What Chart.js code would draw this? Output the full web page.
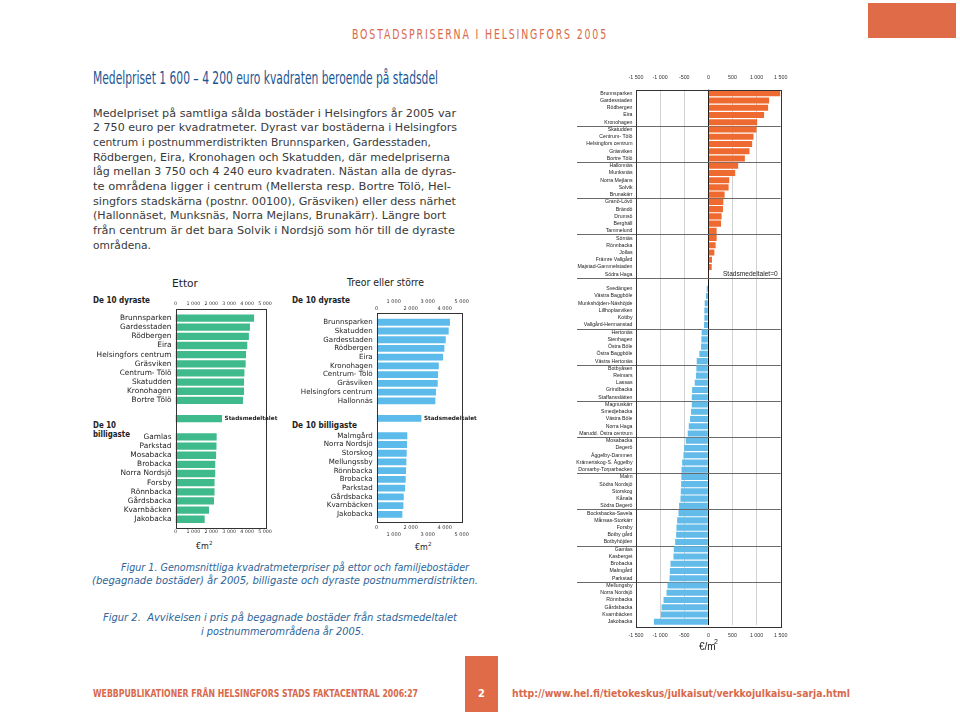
<!DOCTYPE html>
<html lang="sv">
<head>
<meta charset="utf-8">
<title>Bostadspriserna i Helsingfors 2005</title>
<script src="https://cdn.jsdelivr.net/npm/chart.js@4.4.1/dist/chart.umd.min.js"></script>
<style>
  html, body { margin: 0; padding: 0; background: #fff; }
  #page { position: relative; width: 960px; height: 712px; overflow: hidden; font-family: 'DejaVu Sans', Verdana, sans-serif; color: #3a3a3a; }
  .t { position: absolute; white-space: nowrap; line-height: 1; transform-origin: 0 50%; }
  .cond { font-family: 'DejaVu Sans Condensed', 'Liberation Sans Narrow', 'DejaVu Sans', sans-serif; font-stretch: condensed; }
  .orange { color: #d8694b; }
  .p { font-size: 11px; }
  .cap { font-style: italic; color: #2e6599; font-size: 10.5px; }
  .lbl { color: #222; }
  .block { position: absolute; background: #e06b48; }
  canvas { position: absolute; }
  sup { font-size: 70%; vertical-align: 4px; }
</style>
</head>
<body>
<div id="page">
  <!-- header -->
  <div class="block" style="left:868px;top:3px;width:88px;height:35px"></div>
  <div class="t cond orange" style="left:352px;top:27px;font-size:14px;letter-spacing:2.5px" data-w="256">BOSTADSPRISERNA I HELSINGFORS 2005</div>

  <div class="t cond" style="left:93px;top:69px;font-size:18px;color:#1b5692" data-w="345">Medelpriset 1 600 – 4 200 euro kvadraten beroende på stadsdel</div>

  <div class="t p" style="left:93px;top:107.5px" data-w="363">Medelpriset på samtliga sålda bostäder i Helsingfors år 2005 var</div>
  <div class="t p" style="left:93px;top:122.2px" data-w="364">2 750 euro per kvadratmeter. Dyrast var bostäderna i Helsingfors</div>
  <div class="t p" style="left:93px;top:136.8px" data-w="338">centrum i postnummerdistrikten Brunnsparken, Gardesstaden,</div>
  <div class="t p" style="left:93px;top:151.5px" data-w="357">Rödbergen, Eira, Kronohagen och Skatudden, där medelpriserna</div>
  <div class="t p" style="left:93px;top:166.2px" data-w="363">låg mellan 3 750 och 4 240 euro kvadraten. Nästan alla de dyras-</div>
  <div class="t p" style="left:93px;top:180.8px" data-w="358">te områdena ligger i centrum (Mellersta resp. Bortre Tölö, Hel-</div>
  <div class="t p" style="left:93px;top:195.5px" data-w="363">singfors stadskärna (postnr. 00100), Gräsviken) eller dess närhet</div>
  <div class="t p" style="left:93px;top:210.2px" data-w="353">(Hallonnäset, Munksnäs, Norra Mejlans, Brunakärr). Längre bort</div>
  <div class="t p" style="left:93px;top:224.8px" data-w="362">från centrum är det bara Solvik i Nordsjö som hör till de dyraste</div>
  <div class="t p" style="left:93px;top:239.5px" data-w="58">områdena.</div>

  <!-- small charts: headings -->
  <div class="t lbl" style="left:172px;top:277.5px;font-size:10.5px" data-w="26">Ettor</div>
  <div class="t lbl" style="left:347px;top:276.5px;font-size:10.5px" data-w="77">Treor eller större</div>
  <div class="t lbl" style="left:93px;top:295.5px;font-size:8.5px;font-weight:bold" data-w="57">De 10 dyraste</div>
  <div class="t lbl" style="left:292px;top:295.5px;font-size:8.5px;font-weight:bold" data-w="58">De 10 dyraste</div>
  <div class="t lbl" style="left:93px;top:420.5px;font-size:8.5px;font-weight:bold" data-w="23">De 10</div>
  <div class="t lbl" style="left:93px;top:429.5px;font-size:8.5px;font-weight:bold" data-w="37">billigaste</div>
  <div class="t lbl" style="left:292px;top:420.5px;font-size:8.5px;font-weight:bold" data-w="65">De 10 billigaste</div>
  <div class="t lbl" style="left:196px;top:541px;font-size:8px">€m<sup>2</sup></div>
  <div class="t lbl" style="left:415px;top:542px;font-size:8px">€m<sup>2</sup></div>

  <canvas id="ettor" width="206" height="250" style="left:84px;top:295px"></canvas>
  <canvas id="treor" width="200" height="260" style="left:280px;top:290px"></canvas>
  <canvas id="avvikelse" width="240" height="580" style="left:560px;top:66px"></canvas>

  <div class="t lbl" style="left:699px;top:641.5px;font-family:'Liberation Sans',Arial,sans-serif;font-size:10px">€/m</div>
  <div class="t lbl" style="left:714px;top:637.5px;font-family:'Liberation Sans',Arial,sans-serif;font-size:7px">2</div>

  <!-- captions -->
  <div class="t cap" style="left:121px;top:561.5px" data-w="348">Figur 1. Genomsnittliga kvadratmeterpriser på ettor och familjebostäder</div>
  <div class="t cap" style="left:92px;top:574.5px" data-w="386">(begagnade bostäder) år 2005, billigaste och dyraste postnummerdistrikten.</div>
  <div class="t cap" style="left:103px;top:611.5px" data-w="354">Figur 2.&nbsp; Avvikelsen i pris på begagnade bostäder från stadsmedeltalet</div>
  <div class="t cap" style="left:201px;top:625.5px" data-w="163">i postnummerområdena år 2005.</div>

  <!-- footer -->
  <div class="t cond orange" style="left:93px;top:687.5px;font-size:11px;font-weight:bold" data-w="325">WEBBPUBLIKATIONER FRÅN HELSINGFORS STADS FAKTACENTRAL 2006:27</div>
  <div class="block" style="left:465px;top:656px;width:33px;height:56px"></div>
  <div class="t cond" style="left:478px;top:687.5px;font-size:11px;font-weight:bold;color:#fff">2</div>
  <div class="t cond orange" style="left:512px;top:687.5px;font-size:11px;font-weight:bold" data-w="338">http://www.hel.fi/tietokeskus/julkaisut/verkkojulkaisu-sarja.html</div>
</div>

<script>
// Ettor (one-room flats), euro per m2
const ettorDyraste = ['Brunnsparken', 'Gardesstaden', 'Rödbergen', 'Eira', 'Helsingfors centrum',
    'Gräsviken', 'Centrum- Tölö', 'Skatudden', 'Kronohagen', 'Bortre Tölö'];
const ettorDyrasteVal = [4390, 4160, 4100, 4010, 3940, 3920, 3850, 3830, 3830, 3770];
const ettorMedel = 2600;
const ettorBilligaste = ['Gamlas', 'Parkstad', 'Mosabacka', 'Brobacka', 'Norra Nordsjö',
    'Forsby', 'Rönnbacka', 'Gårdsbacka', 'Kvarnbäcken', 'Jakobacka'];
const ettorBilligasteVal = [2300, 2290, 2270, 2220, 2220, 2180, 2180, 2150, 1870, 1630];

// Treor eller större, euro per m2
const treorDyraste = ['Brunnsparken', 'Skatudden', 'Gardesstaden', 'Rödbergen', 'Eira',
    'Kronohagen', 'Centrum- Tölö', 'Gräsviken', 'Helsingfors centrum', 'Hallonnäs'];
const treorDyrasteVal = [4310, 4235, 4060, 3980, 3900, 3650, 3610, 3590, 3490, 3450];
const treorMedel = 2630;
const treorBilligaste = ['Malmgård', 'Norra Nordsjö', 'Storskog', 'Mellungssby', 'Rönnbacka',
    'Brobacka', 'Parkstad', 'Gårdsbacka', 'Kvarnbäcken', 'Jakobacka'];
const treorBilligasteVal = [1800, 1780, 1765, 1745, 1725, 1705, 1665, 1590, 1570, 1510];

const avgLabel = 'Stadsmedeltalet';

// Figur 2: deviation from city average (euro per m2)
const overNames = ['Brunnsparken', 'Gardesstaden', 'Rödbergen', 'Eira', 'Kronohagen',
    'Skatudden', 'Centrum- Tölö', 'Helsingfors centrum', 'Gräsviken', 'Bortre Tölö',
    'Hallonnäs', 'Munksnäs', 'Norra Mejlans', 'Solvik', 'Brunakärr',
    'Granö-Lövö', 'Brändö', 'Drumsö', 'Berghäll', 'Tammelund',
    'Sörnäs', 'Rönnbacka', 'Jollas', 'Främre Vallgård', 'Majstad-Gammelstaden', 'Södra Haga'];
const overValues = [1490, 1260, 1239, 1156, 1012,
    998, 936, 908, 853, 757,
    619, 557, 434, 420, 337,
    310, 303, 275, 262, 172,
    172, 151, 124, 76, 69, 14];
const underNames = ['Svedängen', 'Västra Baggböle', 'Munkshöjden-Näshöjde', 'Lillhoplaxviken', 'Kottby', 'Vallgård-Hermanstad',
    'Hertonäs', 'Stenhagen', 'Östra Böle', 'Östra Baggböle', 'Västra Hertonäs',
    'Botbyåsen', 'Reimars', 'Lassas', 'Grindbacka', 'Staffansslätten',
    'Magnuskärr', 'Smedjebacka', 'Västra Böle', 'Norra Haga', 'Marudd. Östra centrum',
    'Mosabacka', 'Degerö', 'Åggelby-Dammen', 'Krämertskog-S. Åggelby', 'Domarby-Torparbacken',
    'Malm', 'Södra Nordsjö', 'Storskog', 'Kånala', 'Södra Degerö',
    'Bocksbacka-Savela', 'Månsas-Storkärr', 'Forsby', 'Botby gård', 'Botbyhöjden',
    'Gamlas', 'Kasberget', 'Brobacka', 'Malmgård', 'Parkstad',
    'Mellungsby', 'Norra Nordsjö', 'Rönnbacka', 'Gårdsbacka', 'Kvarnbäcken', 'Jakobacka'];
const underValues = [-34, -48, -76, -83, -83, -89,
    -138, -145, -151, -186, -241,
    -248, -255, -282, -337, -344,
    -344, -358, -379, -406, -427,
    -468, -502, -516, -544, -557,
    -560, -564, -571, -578, -606,
    -619, -647, -661, -668, -688,
    -716, -723, -785, -798, -805,
    -847, -867, -929, -970, -984, -1129];
const avgNote = 'Stadsmedeltalet=0';
// rows after which a separator line is drawn
const groupBreaks = [4, 9, 14, 19, 25, 32, 37, 42, 47, 52, 57, 62, 67];

const GREEN = '#3fba8c';
const LIGHTBLUE = '#5cbbea';
const ORANGE = '#ee6a31';
const SKY = '#62bbe8';
const VERDANA = "'DejaVu Sans', Verdana, sans-serif";
const ARIAL = "'Liberation Sans', Arial, sans-serif";

// thousands with a space: 1 000
function fmt(v) {
    return String(v).replace(/\B(?=(\d{3})+(?!\d))/g, ' ');
}

// frame, separator lines and text notes drawn on top of the chart area
function framePlugin(cfg) {
    return {
        id: 'frame',
        beforeDatasetsDraw(chart) {
            if (!cfg.breaks) return;
            const { ctx, chartArea: a, scales: { y } } = chart;
            ctx.save();
            ctx.strokeStyle = '#6a6a6a';
            ctx.lineWidth = 1;
            cfg.breaks.forEach(i => {
                const yy = Math.round((y.getPixelForValue(i) + y.getPixelForValue(i + 1)) / 2) + 0.5;
                ctx.beginPath();
                ctx.moveTo(a.left - cfg.breakReach, yy);
                ctx.lineTo(a.right, yy);
                ctx.stroke();
            });
            ctx.restore();
        },
        afterDatasetsDraw(chart) {
            const { ctx, chartArea: a, scales: { y } } = chart;
            ctx.save();
            ctx.strokeStyle = '#333';
            ctx.lineWidth = 1;
            const top = Math.round(a.top - cfg.padTop) + 0.5;
            const bottom = Math.round(a.bottom + cfg.padBottom) + 0.5;
            ctx.strokeRect(Math.round(a.left) + 0.5, top, Math.round(a.right - a.left), bottom - top);

            if (cfg.avgIndex != null) {
                const bar = chart.getDatasetMeta(0).data[cfg.avgIndex];
                ctx.font = 'bold 5.7px ' + VERDANA;
                ctx.fillStyle = '#222';
                ctx.textBaseline = 'middle';
                ctx.textAlign = 'left';
                ctx.fillText(avgLabel, bar.x + 2.5, bar.y);
            }
            if (cfg.note) {
                const i = cfg.noteRow;
                const yy = (y.getPixelForValue(i) + y.getPixelForValue(i + 1)) / 2;
                ctx.font = '6.6px ' + ARIAL;
                ctx.fillStyle = '#222';
                ctx.textAlign = 'right';
                ctx.textBaseline = 'bottom';
                ctx.fillText(cfg.note, a.right - 3, yy - 0.5);
            }
            ctx.restore();
        }
    };
}

// Figur 1 style chart: 10 dearest, city average, 10 cheapest
function createTopBottomChart(id, names1, vals1, medel, names2, vals2, color, lay) {
    const labels = [...names1, '', '', '', ...names2];
    const data = [...vals1, null, medel, null, ...vals2];
    const tickFont = { family: VERDANA, size: lay.tickSize, lineHeight: lay.lineHeight };

    const xAxis = (position, height, padding, callback) => ({
        type: 'linear',
        position: position,
        axis: 'x',
        min: 0,
        max: 5000,
        grid: { display: false, drawTicks: false },
        border: { display: false },
        ticks: { stepSize: 1000, autoSkip: false, maxRotation: 0, padding: padding, color: '#333', font: tickFont, callback: callback },
        afterFit: s => { s.height = height; }
    });

    return new Chart(document.getElementById(id), {
        type: 'bar',
        data: {
            labels: labels,
            datasets: [{
                data: data,
                backgroundColor: color,
                barPercentage: lay.barPct,
                categoryPercentage: 1
            }]
        },
        options: {
            indexAxis: 'y',
            responsive: false,
            animation: false,
            layout: { padding: { right: lay.padRight, left: 0, top: 0, bottom: 0 } },
            plugins: { legend: { display: false }, tooltip: { enabled: false } },
            scales: {
                y: {
                    grid: { display: false, drawTicks: false },
                    border: { display: false },
                    ticks: { autoSkip: false, padding: 4, color: '#222', font: { family: VERDANA, size: lay.labelSize } },
                    afterFit: s => { s.width = lay.yWidth; }
                },
                x: xAxis('bottom', lay.bottomH, lay.bottomPad, lay.bottomCb),
                xTop: xAxis('top', lay.topH, lay.topPad, lay.topCb)
            }
        },
        plugins: [framePlugin({ padTop: lay.boxTop, padBottom: lay.boxBottom, avgIndex: names1.length + 1 })]
    });
}

document.addEventListener('DOMContentLoaded', () => {
    // stretch text lines to the widths of the original layout
    document.querySelectorAll('[data-w]').forEach(el => {
        const w = el.getBoundingClientRect().width;
        if (w > 0) el.style.transform = `scaleX(${el.dataset.w / w})`;
    });

    createTopBottomChart('ettor', ettorDyraste, ettorDyrasteVal, ettorMedel, ettorBilligaste, ettorBilligasteVal, GREEN, {
        yWidth: 91.5, topH: 18.5, bottomH: 21.2, padRight: 25,
        topPad: 6.6, bottomPad: 5.3, tickSize: 4.8, lineHeight: 1.2, labelSize: 7.4,
        boxTop: 4.5, boxBottom: 4.3, barPct: 0.8,
        topCb: v => fmt(v), bottomCb: v => fmt(v)
    });

    createTopBottomChart('treor', treorDyraste, treorDyrasteVal, treorMedel, treorBilligaste, treorBilligasteVal, LIGHTBLUE, {
        yWidth: 96.7, topH: 27.9, bottomH: 31.3, padRight: 18.3,
        topPad: 5.4, bottomPad: 5.5, tickSize: 5, lineHeight: 1.4, labelSize: 7.1,
        boxTop: 4.9, boxBottom: 3, barPct: 0.78,
        topCb: v => (v / 1000) % 2 === 1 ? [fmt(v), ''] : ['', fmt(v)],
        bottomCb: v => (v / 1000) % 2 === 0 ? [fmt(v), ''] : ['', fmt(v)]
    });

    // Figur 2
    const devLabels = [...overNames, '', ...underNames];
    const devData = [...overValues, null, ...underValues];
    const devColors = devData.map(v => v >= 0 ? ORANGE : SKY);
    const devTickFont = { family: ARIAL, size: 5.3 };
    const gridColor = ctx => {
        const v = ctx.tick ? ctx.tick.value : 1;
        if (v === 0) return '#111';
        if (Math.abs(v) === 1500) return 'rgba(0,0,0,0)';
        return '#d2d2d2';
    };
    const devAxis = (position, height, padding, showGrid) => ({
        type: 'linear',
        position: position,
        axis: 'x',
        min: -1500,
        max: 1500,
        grid: { display: showGrid, drawTicks: false, color: gridColor, lineWidth: 1 },
        border: { display: false },
        ticks: { stepSize: 500, autoSkip: false, maxRotation: 0, padding: padding, color: '#333', font: devTickFont, callback: v => fmt(v) },
        afterFit: s => { s.height = height; }
    });

    new Chart(document.getElementById('avvikelse'), {
        type: 'bar',
        data: {
            labels: devLabels,
            datasets: [{
                data: devData,
                backgroundColor: devColors,
                barPercentage: 0.84,
                categoryPercentage: 1
            }]
        },
        options: {
            indexAxis: 'y',
            responsive: false,
            animation: false,
            layout: { padding: { right: 19.3, left: 0, top: 0, bottom: 0 } },
            plugins: { legend: { display: false }, tooltip: { enabled: false } },
            scales: {
                y: {
                    grid: { display: false, drawTicks: false },
                    border: { display: false },
                    ticks: { autoSkip: false, padding: 3.5, color: '#222', font: { family: ARIAL, size: 5.2 } },
                    afterFit: s => { s.width = 76; }
                },
                x: devAxis('bottom', 20.7, 7.1, true),
                xTop: devAxis('top', 23.7, 9.4, false)
            }
        },
        plugins: [framePlugin({ padTop: 0, padBottom: 1.5, breaks: groupBreaks, breakReach: 59, note: avgNote, noteRow: overNames.length - 1 })]
    });
});
</script>
</body>
</html>
